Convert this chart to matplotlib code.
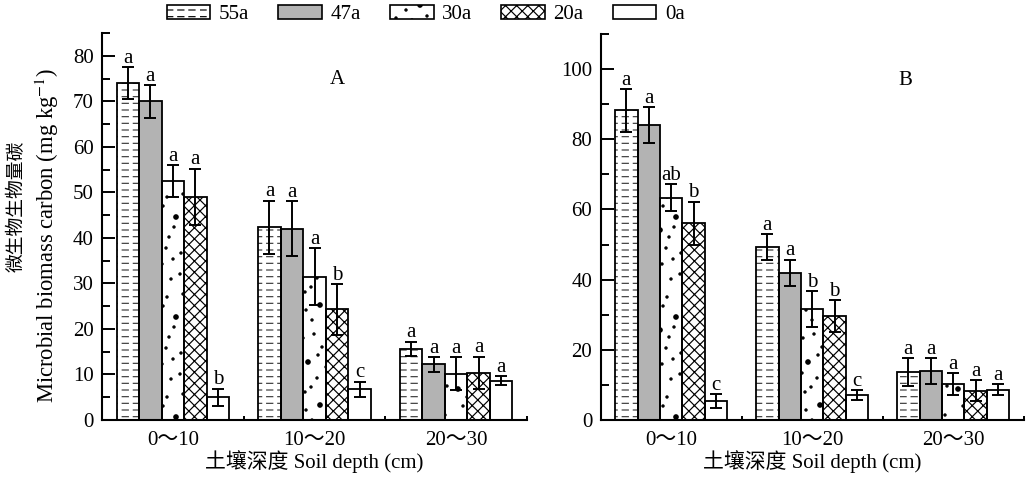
import numpy as np
import matplotlib
matplotlib.use("Agg")
import matplotlib.pyplot as plt
import matplotlib.hatch as mhatch
from matplotlib.path import Path
from matplotlib.patches import Patch
from matplotlib.ticker import MultipleLocator

# ---------------- data ----------------
depths = ["0～10", "10～20", "20～30"]
ages = ["55a", "47a", "30a", "20a", "0a"]

A_55 = [74.0, 42.3, 15.6]
A_47 = [70.0, 42.0, 12.2]
A_30 = [52.5, 31.5, 10.2]
A_20 = [49.0, 24.3, 10.4]
A_0 = [5.0, 6.7, 8.6]
A_55_err = [3.5, 5.9, 1.6]
A_47_err = [3.6, 6.0, 1.6]
A_30_err = [3.5, 6.3, 3.6]
A_20_err = [6.2, 5.6, 3.5]
A_0_err = [1.9, 1.7, 1.0]
A_letters = [["a", "a", "a"], ["a", "a", "a"], ["a", "a", "a"], ["a", "b", "a"], ["b", "c", "a"]]

B_55 = [88.2, 49.3, 13.7]
B_47 = [84.0, 42.0, 14.0]
B_30 = [63.4, 31.6, 10.2]
B_20 = [56.0, 29.7, 8.3]
B_0 = [5.4, 7.1, 8.6]
B_55_err = [6.0, 3.6, 3.9]
B_47_err = [5.2, 3.7, 3.6]
B_30_err = [3.8, 5.2, 3.2]
B_20_err = [6.2, 4.5, 3.0]
B_0_err = [2.0, 1.4, 1.6]
B_letters = [["a", "a", "a"], ["a", "a", "a"], ["ab", "b", "a"], ["b", "b", "a"], ["c", "c", "a"]]


# ---------------- custom hatch textures ----------------
class DashRows(mhatch.HatchPatternBase):
    def __init__(self, hatch, density):
        n = hatch.count('-')
        self.rows = 15 * n
        self.cols = 9 * n
        self.num_vertices = self.rows * self.cols * 2

    def set_vertices_and_codes(self, vertices, codes):
        ys = (np.arange(self.rows) + 0.5) / self.rows
        xs = np.arange(self.cols) / self.cols
        X, Y = np.meshgrid(xs, ys)
        X = X.ravel()
        Y = Y.ravel()
        dash = 0.55 / self.cols
        vertices[0::2, 0] = X
        vertices[0::2, 1] = Y
        vertices[1::2, 0] = X + dash
        vertices[1::2, 1] = Y
        codes[0::2] = Path.MOVETO
        codes[1::2] = Path.LINETO


class NE(mhatch.NorthEastHatch):
    def __init__(self, hatch, density):
        self.num_lines = 18 * (hatch.count('/') + hatch.count('x') + hatch.count('X'))
        self.num_vertices = (self.num_lines + 1) * 2 if self.num_lines else 0


class SE(mhatch.SouthEastHatch):
    def __init__(self, hatch, density):
        self.num_lines = 18 * (hatch.count('\\') + hatch.count('x') + hatch.count('X'))
        self.num_vertices = (self.num_lines + 1) * 2 if self.num_lines else 0


DOT_TEXTURE = [
    (0.05, 0.08, 0), (0.31, 0.04, 0), (0.58, 0.11, 1), (0.83, 0.06, 0),
    (0.17, 0.22, 0), (0.44, 0.27, 0), (0.71, 0.21, 0), (0.93, 0.30, 1),
    (0.08, 0.38, 1), (0.36, 0.42, 0), (0.62, 0.36, 0), (0.81, 0.47, 0),
    (0.22, 0.53, 0), (0.49, 0.57, 1), (0.03, 0.62, 0), (0.69, 0.63, 0),
    (0.91, 0.69, 0), (0.29, 0.71, 0), (0.12, 0.80, 0), (0.53, 0.78, 0),
    (0.76, 0.83, 1), (0.39, 0.90, 0), (0.63, 0.94, 0), (0.88, 0.92, 0),
    (0.20, 0.95, 1), (0.47, 0.14, 0), (0.97, 0.15, 0), (0.56, 0.48, 0),
    (0.26, 0.33, 0), (0.74, 0.73, 0), (0.14, 0.66, 0), (0.43, 0.68, 0),
    (0.11, 0.13, 0), (0.67, 0.03, 0), (0.52, 0.33, 0), (0.86, 0.58, 0),
    (0.33, 0.58, 0), (0.06, 0.90, 0), (0.96, 0.82, 0), (0.60, 0.70, 1),
    (0.27, 0.84, 0), (0.73, 0.41, 0), (0.40, 0.07, 0), (0.18, 0.45, 0),
    (0.90, 0.40, 0), (0.35, 0.20, 0), (0.80, 0.26, 0), (0.45, 0.85, 0),
    (0.02, 0.27, 0), (0.66, 0.52, 0),
]


class Dots(mhatch.HatchPatternBase):
    def __init__(self, hatch, density):
        self.on = hatch.count('.') > 0
        circ = Path.unit_circle()
        self.cv = circ.vertices
        self.cc = circ.codes
        self.num_vertices = len(DOT_TEXTURE) * len(self.cv) if self.on else 0

    def set_vertices_and_codes(self, vertices, codes):
        m = len(self.cv)
        for i, (cx, cy, big) in enumerate(DOT_TEXTURE):
            r = 0.022 if big else 0.011
            vertices[i * m:(i + 1) * m] = self.cv * r + [cx, cy]
            codes[i * m:(i + 1) * m] = self.cc


mhatch._hatch_types[:] = [DashRows, mhatch.VerticalHatch, NE, SE, Dots]

# ---------------- style ----------------
plt.rcParams['font.family'] = ['Liberation Serif', 'Noto Sans CJK SC']
plt.rcParams['mathtext.fontset'] = 'stix'
plt.rcParams['hatch.linewidth'] = 0.85
FS = 15

styles = [
    dict(face='white', hatch='-', hcol='#3a3a3a'),
    dict(face='#b3b3b3', hatch=None, hcol='black'),
    dict(face='white', hatch='.', hcol='black'),
    dict(face='white', hatch='x', hcol='black'),
    dict(face='white', hatch=None, hcol='black'),
]

fig = plt.figure(figsize=(10.28, 4.8), dpi=100)
axA = fig.add_axes([102 / 1028, 60 / 480, 425 / 1028, 387 / 480])
axB = fig.add_axes([600.7 / 1028, 60 / 480, 423 / 1028, 386 / 480])

w = 0.159
xg = np.arange(len(depths))


def draw(ax, series, errs, letters, ymax, major, minor, tag, tagx):
    for i, (vals, err) in enumerate(zip(series, errs)):
        st = styles[i]
        xpos = xg + (i - 2) * w
        ax.bar(xpos, vals, width=w, color=st['face'], edgecolor=st['hcol'],
               hatch=st['hatch'], linewidth=0, zorder=2)
        ax.bar(xpos, vals, width=w, fill=False, edgecolor='black', linewidth=1.3, zorder=3)
        ax.errorbar(xpos, vals, yerr=err, fmt='none', ecolor='black', elinewidth=1.4,
                    capsize=4.5, capthick=1.4, zorder=4)
        for x, v, e, t in zip(xpos, vals, err, letters[i]):
            ax.annotate(t, (x, v + e), xytext=(0, -0.5), textcoords='offset points',
                        ha='center', va='bottom', fontsize=FS)
    ax.set_xlim(-0.5, 2.5)
    ax.set_ylim(0, ymax)
    ax.spines['top'].set_visible(False)
    ax.spines['right'].set_visible(False)
    for s in ('left', 'bottom'):
        ax.spines[s].set_linewidth(1.5)
    ax.yaxis.set_major_locator(MultipleLocator(major))
    ax.yaxis.set_minor_locator(MultipleLocator(minor))
    ax.tick_params(axis='y', which='major', direction='in', length=9.5, width=1.4,
                   labelsize=FS, pad=6)
    ax.tick_params(axis='y', which='minor', direction='in', length=5.5, width=1.4)
    ax.set_xticks(xg)
    ax.set_xticklabels(depths)
    ax.set_xticks([-0.5, 0.5, 1.5, 2.5], minor=True)
    ax.tick_params(axis='x', which='major', length=0, labelsize=FS, pad=8)
    ax.tick_params(axis='x', which='minor', direction='in', length=3, width=1.4)
    ax.set_xlabel("土壤深度 Soil depth (cm)", fontsize=FS, labelpad=0)
    ax.text(tagx, 0.879, tag, transform=ax.transAxes, ha='center', va='center', fontsize=FS)


draw(axA, [A_55, A_47, A_30, A_20, A_0],
     [A_55_err, A_47_err, A_30_err, A_20_err, A_0_err], A_letters, 85, 10, 5, "A", 0.553)
draw(axB, [B_55, B_47, B_30, B_20, B_0],
     [B_55_err, B_47_err, B_30_err, B_20_err, B_0_err], B_letters, 110, 20, 10, "B", 0.72)

fig.text(17 / 1028, 1 - 206 / 480, "微生物生物量碳", rotation=90, ha='center', va='center',
         fontsize=13.5)
fig.text(47 / 1028, 1 - 235 / 480, "Microbial biomass carbon (mg kg$^{-1}$)", rotation=90,
         ha='center', va='center', fontsize=16.3)

handles = [Patch(facecolor=st['face'], edgecolor='black', hatch=st['hatch'], linewidth=1.2)
           for st in styles]
fig.legend(handles, ages, loc='center', bbox_to_anchor=(0.414, 0.969), ncol=5,
           frameon=False, fontsize=FS, handlelength=2.1, handleheight=0.6,
           handletextpad=0.4, columnspacing=1.4, borderaxespad=0)

fig.savefig("out.png", dpi=100)
